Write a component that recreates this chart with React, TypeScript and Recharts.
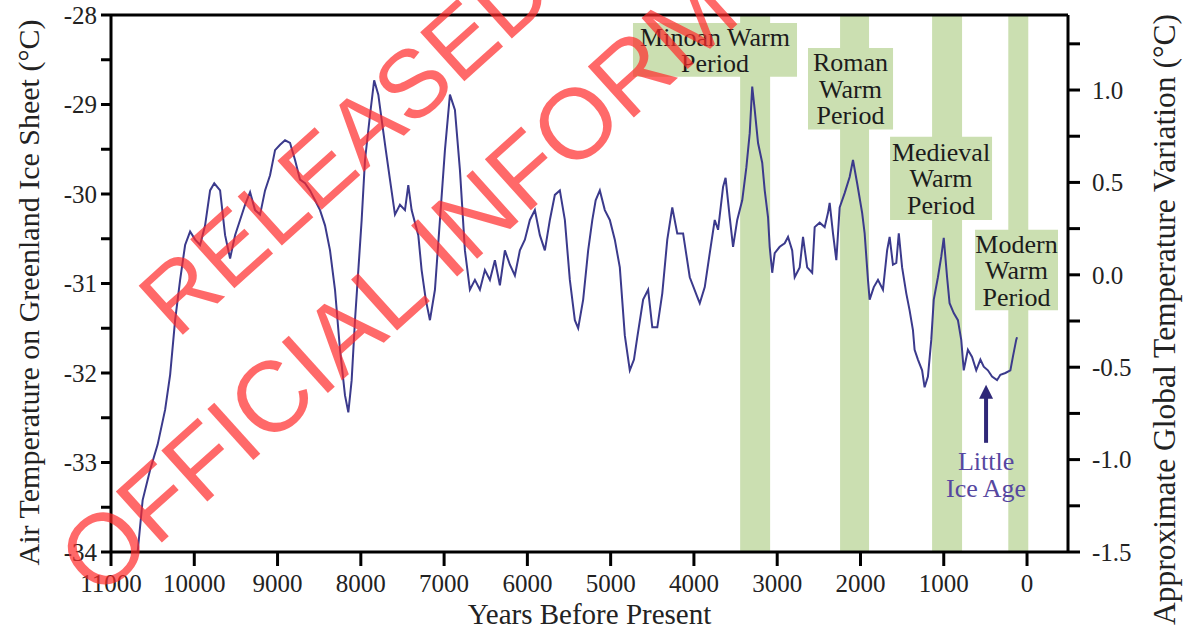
import React from 'react';
import {
  ComposedChart,
  Line,
  XAxis,
  YAxis,
  ReferenceArea,
  ReferenceLine,
  Label,
} from 'recharts';

// ---------- data ----------
const years = [
  10680, 10620, 10530, 10440, 10350, 10290, 10230, 10170, 10110, 10050,
  9990, 9930, 9870, 9810, 9760, 9690, 9630, 9570, 9510, 9450,
  9390, 9330, 9270, 9210, 9150, 9090, 9030, 8970, 8910, 8850,
  8790, 8730, 8670, 8610, 8550, 8490, 8430, 8370, 8310, 8250,
  8190, 8150, 8110, 8070, 8030, 7990, 7950, 7890, 7840, 7790,
  7750, 7700, 7650, 7590, 7530, 7470, 7430, 7390, 7310, 7270,
  7220, 7170, 7110, 7050, 6990, 6930, 6870, 6810, 6750, 6690,
  6630, 6570, 6510, 6450, 6390, 6330, 6270, 6210, 6150, 6090,
  6030, 5970, 5910, 5850, 5790, 5730, 5670, 5610, 5550, 5490,
  5430, 5390, 5330, 5270, 5220, 5180, 5130, 5070, 5010, 4950,
  4890, 4830, 4770, 4720, 4680, 4610, 4550, 4500, 4440, 4380,
  4320, 4260, 4200, 4130, 4050, 3960, 3930, 3870, 3810, 3750,
  3710, 3650, 3620, 3570, 3530, 3480, 3420, 3370, 3330, 3300,
  3270, 3230, 3180, 3150, 3110, 3090, 3060, 3030, 2970, 2910,
  2870, 2820, 2790, 2730, 2690, 2640, 2580, 2550, 2490, 2430,
  2390, 2370, 2330, 2290, 2250, 2190, 2130, 2090, 2040, 1980,
  1950, 1910, 1890, 1840, 1790, 1730, 1680, 1650, 1610, 1570,
  1540, 1500, 1450, 1410, 1370, 1350, 1310, 1260, 1230, 1190,
  1150, 1120, 1070, 1030, 1000, 960, 930, 880, 830, 790,
  760, 710, 660, 610, 560, 520, 470, 420, 360, 320,
  260, 200, 170, 130, 120,
];

const temps = [
  -34.0, -33.42, -33.08, -32.8, -32.41, -32.02, -31.41, -30.96, -30.57, -30.42,
  -30.51, -30.57, -30.35, -29.96, -29.88, -29.96, -30.46, -30.72, -30.46, -30.29,
  -30.12, -29.98, -30.18, -30.23, -29.96, -29.79, -29.51, -29.45, -29.4, -29.43,
  -29.62, -29.84, -29.88, -29.96, -30.07, -30.18, -30.35, -30.63, -31.07, -31.74,
  -32.25, -32.44, -32.08, -31.41, -30.85, -30.29, -29.62, -29.12, -28.73, -28.89,
  -29.17, -29.51, -29.84, -30.23, -30.12, -30.18, -29.9, -30.18, -30.46, -30.85,
  -31.18, -31.41, -31.07, -30.29, -29.51, -28.89, -29.06, -29.73, -30.63, -31.07,
  -30.96, -31.07, -30.85, -30.96, -30.74, -31.02, -30.63, -30.79, -30.91, -30.63,
  -30.51, -30.29, -30.18, -30.46, -30.63, -30.29, -30.01, -29.96, -30.29, -30.96,
  -31.41, -31.5, -31.18, -30.63, -30.29, -30.07, -29.96, -30.18, -30.29, -30.51,
  -30.82, -31.58, -31.97, -31.85, -31.6, -31.18, -31.07, -31.49, -31.49, -31.11,
  -30.51, -30.15, -30.44, -30.44, -30.93, -31.15, -31.22, -31.04, -30.66, -30.29,
  -30.4, -29.92, -29.82, -30.26, -30.59, -30.29, -30.07, -29.7, -29.32, -28.8,
  -29.06, -29.43, -29.65, -29.96, -30.26, -30.59, -30.88, -30.66, -30.59, -30.55,
  -30.48, -30.63, -30.93, -30.82, -30.48, -30.82, -30.88, -30.37, -30.32, -30.37,
  -30.21, -30.1, -30.44, -30.74, -30.15, -29.99, -29.81, -29.62, -29.88, -30.21,
  -30.44, -30.96, -31.18, -31.04, -30.96, -31.07, -30.63, -30.48, -30.79, -30.77,
  -30.44, -30.82, -31.11, -31.3, -31.52, -31.74, -31.85, -31.97, -32.16, -32.04,
  -31.63, -31.18, -30.93, -30.7, -30.49, -30.93, -31.22, -31.33, -31.41, -31.63,
  -31.97, -31.74, -31.82, -31.97, -31.85, -31.93, -31.97, -32.04, -32.08, -32.02,
  -32.0, -31.97, -31.82, -31.63, -31.6,
];

const xTicks = [0, 1000, 2000, 3000, 4000, 5000, 6000, 7000, 8000, 9000, 10000, 11000];
const leftTicks = [-34, -33.5, -33, -32.5, -32, -31.5, -31, -30.5, -30, -29.5, -29, -28.5, -28];
const rightTicks = [-1.5, -1.25, -1.0, -0.75, -0.5, -0.25, 0, 0.25, 0.5, 0.75, 1.0, 1.25];

// warm period bands (years before present)
const bandStarts = [3445, 2245, 1140, 225];
const bandEnds = [3085, 1897, 780, -15];

// label boxes (years / temperature)
const boxLines = [
  ['Minoan Warm', 'Period'],
  ['Roman', 'Warm', 'Period'],
  ['Medieval', 'Warm', 'Period'],
  ['Modern', 'Warm', 'Period'],
];
const boxX1 = [4732, 2630, 1645, 624];
const boxX2 = [2762, 1609, 420, -372];
const boxY1 = [-28.09, -28.37, -29.36, -30.4];
const boxY2 = [-28.69, -29.28, -30.29, -31.3];

// little ice age arrow
const iceAgeYear = 492;
const iceAgeTail = -32.78;
const iceAgeHead = -32.13;

// stamp text visible over the figure
const stampLines = ['RELEASED', 'OFFICIAL INFORM'];

// ---------- styling ----------
const SERIF = '"Liberation Serif", "Times New Roman", Times, serif';
const LINE_COLOR = '#3b3a8c';
const BAND_COLOR = '#cbdfb1';

const data = years.map((y, i) => ({ year: y, temp: temps[i] }));

function BoxText(props: any) {
  const { viewBox, lines } = props;
  if (!viewBox) return null;
  const { x, y, width, height } = viewBox;
  const cx = x + width / 2;
  const cy = y + height / 2;
  const lh = 26.5;
  const first = cy - ((lines.length - 1) / 2) * lh + 9;
  return (
    <text textAnchor="middle" fontFamily={SERIF} fontSize={26} fill="#1c1c1c">
      {lines.map((l: string, i: number) => (
        <tspan key={i} x={cx} y={first + i * lh}>
          {l}
        </tspan>
      ))}
    </text>
  );
}

function VLabel(props: any) {
  const { viewBox, value, dx, dy, fontSize } = props;
  if (!viewBox) return null;
  const x = viewBox.x + dx;
  const y = viewBox.y + viewBox.height / 2 + dy;
  return (
    <text
      x={x}
      y={y}
      transform={`rotate(-90 ${x} ${y})`}
      textAnchor="middle"
      dominantBaseline="central"
      fontFamily={SERIF}
      fontSize={fontSize}
      fill="#222"
    >
      {value}
    </text>
  );
}

function ArrowShape(props: any) {
  const { x1, y1, x2, y2 } = props;
  if (x1 == null) return null;
  const headLen = 14;
  const headHalf = 7;
  return (
    <g>
      <line x1={x1} y1={y1} x2={x2} y2={y2 + headLen - 1} stroke="#2f2878" strokeWidth={4} />
      <polygon
        points={`${x2 - headHalf},${y2 + headLen} ${x2 + headHalf},${y2 + headLen} ${x2},${y2}`}
        fill="#2f2878"
      />
      <text textAnchor="middle" fontFamily={SERIF} fontSize={26} fill="#5647a0">
        <tspan x={x1} y={y1 + 27}>Little</tspan>
        <tspan x={x1} y={y1 + 54}>Ice Age</tspan>
      </text>
    </g>
  );
}

const fmtLeft = (v: number) => (Number.isInteger(v) ? String(v) : '');
const fmtRight = (v: number) => (Math.abs((v * 2) % 1) < 1e-9 ? v.toFixed(1) : '');

export default function App() {
  const axisLine = { stroke: '#000', strokeWidth: 3 };
  const tickLine = { stroke: '#000', strokeWidth: 3 };
  const tickStyle = { fill: '#222', fontSize: 25, fontFamily: SERIF };
  return (
    <div style={{ position: 'absolute', left: 0, top: 0, width: 1185, height: 631, background: '#fff', overflow: 'hidden' }}>
      <ComposedChart
        width={1185}
        height={631}
        data={data}
        margin={{ top: 15, right: 0, bottom: 0, left: 0 }}
      >
        <XAxis
          dataKey="year"
          type="number"
          domain={[-492, 11000]}
          reversed
          allowDataOverflow
          ticks={xTicks}
          interval={0}
          height={79}
          tickSize={14}
          tickMargin={8}
          axisLine={axisLine}
          tickLine={tickLine}
          tick={tickStyle}
        >
          <Label
            value="Years Before Present"
            position="insideBottom"
            offset={7}
            style={{ fontSize: 29, fontFamily: SERIF, fill: '#222' }}
          />
        </XAxis>
        <YAxis
          yAxisId="left"
          orientation="left"
          type="number"
          width={111}
          domain={[-34, -28]}
          allowDataOverflow
          ticks={leftTicks}
          interval={0}
          tickFormatter={fmtLeft}
          tickSize={10}
          tickMargin={4}
          axisLine={axisLine}
          tickLine={tickLine}
          tick={tickStyle}
        >
          <Label
            content={
              <VLabel
                value="Air Temperature on Greenland Ice Sheet (°C)"
                dx={28}
                dy={9}
                fontSize={30}
              />
            }
          />
        </YAxis>
        <YAxis
          yAxisId="right"
          orientation="right"
          type="number"
          width={117}
          domain={[-1.5, 1.406]}
          allowDataOverflow
          ticks={rightTicks}
          interval={0}
          tickFormatter={fmtRight}
          tickSize={12}
          tickMargin={12}
          axisLine={axisLine}
          tickLine={tickLine}
          tick={tickStyle}
        >
          <Label
            content={
              <VLabel
                value="Approximate Global Temperature Variation (°C)"
                dx={96}
                dy={36}
                fontSize={31.5}
              />
            }
          />
        </YAxis>

        {bandStarts.map((s, i) => (
          <ReferenceArea
            key={`band-${i}`}
            yAxisId="left"
            x1={s}
            x2={bandEnds[i]}
            y1={-34}
            y2={-28}
            fill={BAND_COLOR}
            fillOpacity={1}
            stroke="none"
            ifOverflow="visible"
          />
        ))}
        {boxLines.map((lines, i) => (
          <ReferenceArea
            key={`box-${i}`}
            yAxisId="left"
            x1={boxX1[i]}
            x2={boxX2[i]}
            y1={boxY1[i]}
            y2={boxY2[i]}
            fill={BAND_COLOR}
            fillOpacity={1}
            stroke="none"
            ifOverflow="visible"
            label={<BoxText lines={lines} />}
          />
        ))}

        <Line
          yAxisId="left"
          type="linear"
          dataKey="temp"
          stroke={LINE_COLOR}
          strokeWidth={2}
          dot={false}
          activeDot={false}
          isAnimationActive={false}
        />

        <ReferenceLine yAxisId="left" y={-28} stroke="#000" strokeWidth={3} ifOverflow="visible" />
        <ReferenceLine
          yAxisId="left"
          segment={[
            { x: iceAgeYear, y: iceAgeTail },
            { x: iceAgeYear, y: iceAgeHead },
          ]}
          ifOverflow="visible"
          shape={ArrowShape}
        />
      </ComposedChart>
      <svg
        width={1185}
        height={631}
        style={{ position: 'absolute', left: 0, top: 0, pointerEvents: 'none' }}
      >
        <g fontFamily='"Liberation Sans", Arial, sans-serif' fill="#ff2a2a" fillOpacity={0.7}>
          <text x={177} y={340} fontSize={96} transform="rotate(-42 177 340)">{stampLines[0]}</text>
          <text x={98} y={600} fontSize={100} transform="rotate(-42 98 600)">{stampLines[1]}</text>
        </g>
      </svg>
    </div>
  );
}
